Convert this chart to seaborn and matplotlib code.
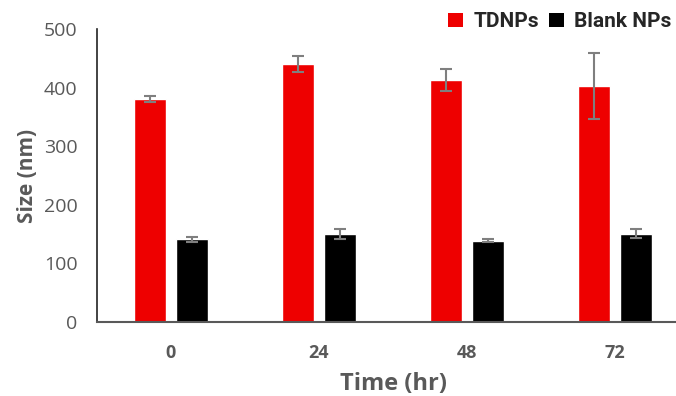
import matplotlib
matplotlib.use("Agg")
import matplotlib.pyplot as plt
import seaborn as sns
import pandas as pd
import numpy as np
from matplotlib.patches import Patch

times = ["0", "24", "48", "72"]
series = ["TDNPs", "Blank NPs"]
tdnps = [380, 440, 413, 403]
tdnps_err = [5, 14, 19, 56]
blank = [141, 150, 139, 151]
blank_err = [4, 8, 3, 8]
colors = {"TDNPs": "#EE0000", "Blank NPs": "#000000"}

df = pd.DataFrame({
    "Time": times * 2,
    "Series": [series[0]] * 4 + [series[1]] * 4,
    "Size": tdnps + blank,
})
errs = {series[0]: tdnps_err, series[1]: blank_err}
vals = {series[0]: tdnps, series[1]: blank}

sns.set_theme(style="white")
plt.rcParams["font.family"] = ["Open Sans", "DejaVu Sans"]

fig = plt.figure(figsize=(6.76, 3.96), dpi=100)
ax = fig.add_axes([97 / 676, 74 / 396, 592 / 676, 293 / 396])

sns.barplot(data=df, x="Time", y="Size", hue="Series", order=times,
            hue_order=series, palette=colors, width=0.57, gap=0.25,
            errorbar=None, ax=ax, legend=False, saturation=1)

for cont, s in zip(ax.containers, series):
    xs = [p.get_x() + p.get_width() / 2 for p in cont.patches]
    ax.errorbar(xs, vals[s], yerr=errs[s], fmt="none", ecolor="#7F7F7F",
                elinewidth=1.5, capsize=4, capthick=1.5, zorder=5)

ax.set_xlim(-0.5, 3.5)
ax.set_ylim(0, 500)
ax.set_yticks([0, 100, 200, 300, 400, 500])
ax.tick_params(axis="y", labelsize=14, labelcolor="#595959", length=0, pad=14)
ax.tick_params(axis="x", labelsize=13, labelcolor="#595959", length=0, pad=16)
for lab in ax.get_xticklabels():
    lab.set_fontweight("bold")

ax.set_ylabel("Size (nm)", fontsize=15, fontweight="bold", color="#595959", labelpad=4)
ax.set_xlabel("Time (hr)", fontsize=17, fontweight="bold", color="#595959", labelpad=7)

for side in ["top", "right"]:
    ax.spines[side].set_visible(False)
ax.spines["left"].set_color("#222222")
ax.spines["left"].set_linewidth(1.2)
ax.spines["bottom"].set_color("#595959")
ax.spines["bottom"].set_linewidth(1.5)

handles = [Patch(facecolor=colors[s], edgecolor="none") for s in series]
leg = fig.legend(handles, series, loc="upper right", bbox_to_anchor=(1.006, 0.99),
                 ncol=2, frameon=False, handlelength=0.7, handleheight=0.7,
                 handletextpad=0.5, columnspacing=0.5, borderaxespad=0.1,
                 borderpad=0.3,
                 prop={"family": ["Roboto", "DejaVu Sans"], "weight": "bold", "size": 15})

fig.savefig("out.png", dpi=100)
